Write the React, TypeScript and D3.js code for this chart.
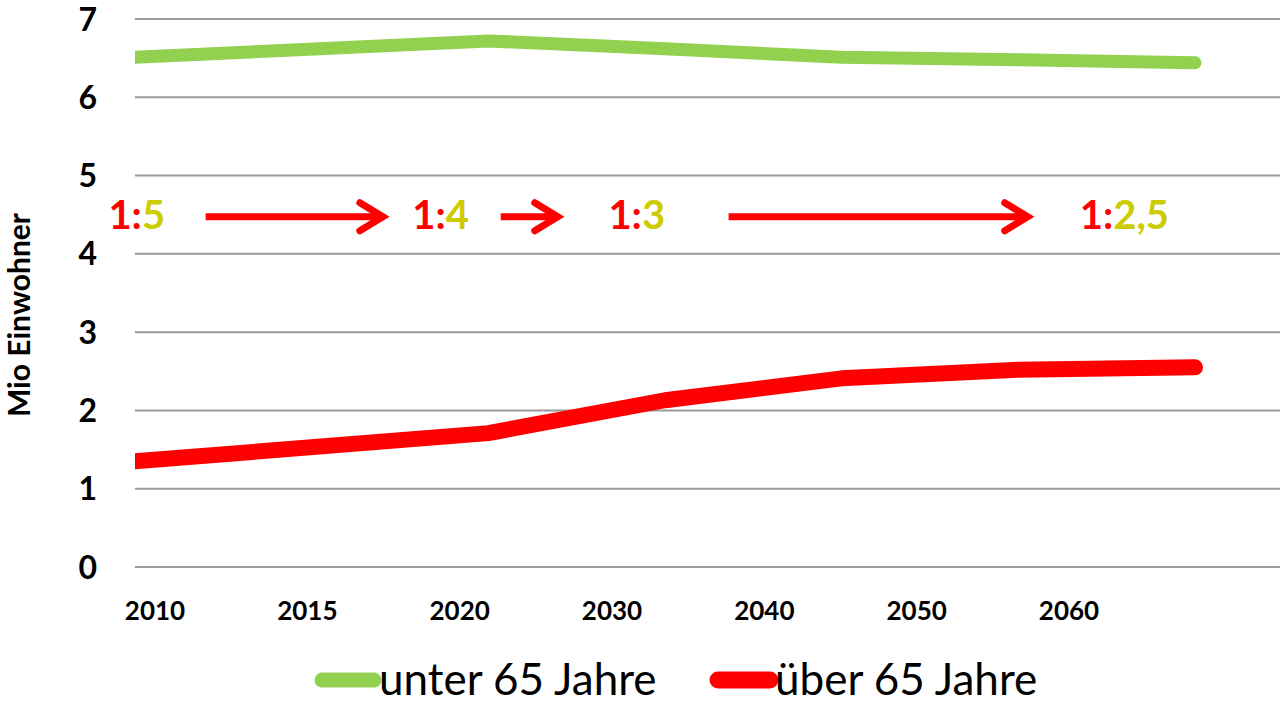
import React from 'react'
import * as d3 from 'd3'

// data
const steps = [0, 2, 3, 4, 5, 6]
const under65 = [6.51, 6.72, 6.62, 6.51, 6.48, 6.44]
const over65 = [1.35, 1.71, 2.13, 2.41, 2.52, 2.55]
const yearLabels = ['2010', '2015', '2020', '2030', '2040', '2050', '2060']
const yTicks = [0, 1, 2, 3, 4, 5, 6, 7]

// ratio annotations (position in step units, ratio parts)
const ratioPos = [0.01, 1.73, 2.84, 5.6]
const ratioRight = ['5', '4', '3', '2,5']
const arrowFrom = [0.4, 2.07, 3.36]
const arrowTo = [1.42, 2.41, 5.07]

const GREEN = '#92D050'
const RED = '#FF0000'
const OLIVE = '#CCCC00'
const FONT = 'Lato, "Open Sans", sans-serif'

const App = () => {
  const width = 1283
  const height = 703

  const xScale = d3.scaleLinear().domain([0, 6]).range([135, 1195])
  const yScale = d3.scaleLinear().domain([0, 7]).range([567, 19])
  const xLabel = d3.scalePoint().domain(yearLabels).range([155, 1069])

  const line = d3
    .line<number>()
    .x((d, i) => xScale(steps[i]))
    .y((d) => yScale(d))

  const annY = yScale(4.5)

  return (
    <svg
      width={width}
      height={height}
      style={{ position: 'absolute', left: 0, top: 0, background: 'white' }}
      fontFamily={FONT}
    >
      {/* grid */}
      {yTicks.map((t) => (
        <line
          key={t}
          x1={135}
          x2={1280}
          y1={yScale(t)}
          y2={yScale(t)}
          stroke="#999"
          strokeWidth={2}
        />
      ))}

      {/* y axis labels */}
      {yTicks.map((t) => (
        <text
          key={t}
          x={97}
          y={yScale(t)}
          dy="0.36em"
          textAnchor="end"
          fontSize={32}
          fontWeight="bold"
        >
          {t}
        </text>
      ))}

      <text
        transform={`translate(30, 315) rotate(-90)`}
        textAnchor="middle"
        fontSize={30}
        fontWeight="bold"
      >
        Mio Einwohner
      </text>

      {/* x labels */}
      {yearLabels.map((l) => (
        <text
          key={l}
          x={xLabel(l)}
          y={620}
          textAnchor="middle"
          fontSize={26}
          fontWeight="bold"
        >
          {l}
        </text>
      ))}

      {/* lines */}
      <path
        d={line(under65) || ''}
        fill="none"
        stroke={GREEN}
        strokeWidth={13}
        strokeLinecap="round"
        strokeLinejoin="round"
      />
      <path
        d={line(over65) || ''}
        fill="none"
        stroke={RED}
        strokeWidth={16}
        strokeLinecap="round"
        strokeLinejoin="round"
      />
      {/* clip left caps to plot edge */}
      <rect x={100} y={30} width={35} height={450} fill="white" />

      {/* ratio annotations */}
      {ratioPos.map((p, i) => (
        <text
          key={i}
          x={xScale(p)}
          y={annY}
          dy="0.36em"
          textAnchor="middle"
          fontSize={40}
          fontWeight="bold"
        >
          <tspan fill={RED}>1:</tspan>
          <tspan fill={OLIVE}>{ratioRight[i]}</tspan>
        </text>
      ))}

      {arrowFrom.map((a, i) => {
        const x1 = xScale(a)
        const x2 = xScale(arrowTo[i])
        return (
          <g key={i} stroke={RED} fill="none">
            <line x1={x1} x2={x2 - 4} y1={annY + 2} y2={annY + 2} strokeWidth={7} />
            <path
              d={`M${x2 - 26},${annY - 12} L${x2 - 3},${annY + 2} L${x2 - 26},${annY + 16}`}
              strokeWidth={7}
              strokeLinecap="round"
              strokeLinejoin="miter"
            />
          </g>
        )
      })}

      {/* legend */}
      <line x1={322} x2={374} y1={680} y2={680} stroke={GREEN} strokeWidth={15} strokeLinecap="round" />
      <text x={379} y={695} fontSize={44}>
        unter 65 Jahre
      </text>
      <line x1={718} x2={770} y1={680} y2={680} stroke={RED} strokeWidth={17} strokeLinecap="round" />
      <text x={775} y={695} fontSize={44}>
        über 65 Jahre
      </text>
    </svg>
  )
}

export default App
